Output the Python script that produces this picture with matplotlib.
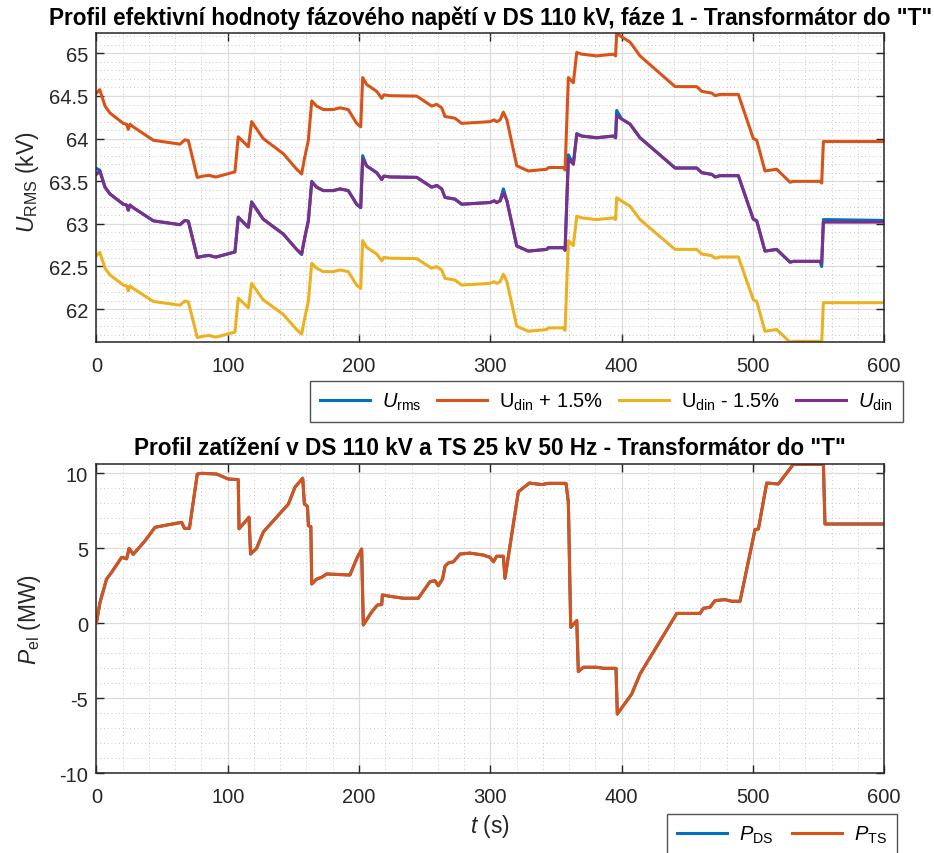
import matplotlib
matplotlib.use("Agg")
import matplotlib.pyplot as plt
from matplotlib.ticker import MultipleLocator, FuncFormatter
import numpy as np

plt.rcParams['font.family'] = ['Liberation Sans', 'DejaVu Sans']
plt.rcParams['mathtext.fontset'] = 'custom'
plt.rcParams['mathtext.rm'] = 'Liberation Sans'
plt.rcParams['mathtext.it'] = 'Liberation Sans:italic'

# --- data ---
t_u = [0, 2.5, 6.5, 10.3, 20.4, 23, 24.2, 25.5, 28, 43.3, 63.6, 67.4, 70, 76.8, 81, 86, 88, 91,
       105.5, 108, 115.7, 118.2, 127, 142.3, 152.5, 156.3, 158.4, 161.4, 164, 167.7, 172.8,
       180.4, 185.5, 191.8, 198.2, 201.3, 202.8, 205.8, 213.5, 217.3, 219, 223.7, 244, 255.4,
       259.2, 263, 265.5, 273.1, 278.2, 299.8, 303, 305, 307.5, 310, 312.7, 320.2, 329, 343,
       344.3, 355.7, 357, 359.5, 363.3, 365.9, 369.7, 381.1, 393.8, 395.5, 396.3, 400.1, 406.5,
       414.1, 440.8, 457.3, 461.1, 468.8, 471.3, 475.1, 489, 500.4, 503, 509.3, 518.2, 528.4,
       531, 551.2, 552.5, 553.8, 600]
u_din = [63.58, 63.62, 63.43, 63.35, 63.23, 63.22, 63.16, 63.22, 63.19, 63.035, 62.99, 63.04,
         63.03, 62.605, 62.62, 62.63, 62.62, 62.61, 62.67, 63.075, 62.96, 63.25, 63.055, 62.88,
         62.70, 62.645, 62.82, 63.035, 63.49, 63.43, 63.39, 63.39, 63.41, 63.39, 63.23, 63.19,
         63.76, 63.68, 63.60, 63.52, 63.56, 63.55, 63.545, 63.43, 63.45, 63.41, 63.31, 63.29,
         63.23, 63.25, 63.27, 63.25, 63.27, 63.36, 63.27, 62.74, 62.68, 62.70, 62.72, 62.72,
         62.69, 63.76, 63.70, 64.05, 64.03, 64.01, 64.03, 64.01, 64.27, 64.23, 64.17, 64.01,
         63.655, 63.655, 63.60, 63.58, 63.55, 63.565, 63.565, 63.055, 63.035, 62.68, 62.70,
         62.55, 62.56, 62.56, 62.54, 63.02, 63.02]
u_rms = [63.65, 63.63, 63.43, 63.35, 63.23, 63.22, 63.16, 63.22, 63.19, 63.035, 62.99, 63.04,
         63.03, 62.605, 62.62, 62.63, 62.62, 62.61, 62.67, 63.08, 62.96, 63.26, 63.055, 62.88,
         62.70, 62.64, 62.82, 63.035, 63.50, 63.43, 63.39, 63.39, 63.41, 63.39, 63.23, 63.19,
         63.80, 63.68, 63.60, 63.52, 63.56, 63.55, 63.545, 63.43, 63.45, 63.41, 63.31, 63.29,
         63.23, 63.25, 63.27, 63.25, 63.27, 63.41, 63.27, 62.74, 62.68, 62.70, 62.72, 62.72,
         62.69, 63.81, 63.70, 64.06, 64.03, 64.01, 64.03, 64.01, 64.33, 64.23, 64.17, 64.01,
         63.655, 63.655, 63.60, 63.58, 63.55, 63.565, 63.565, 63.055, 63.035, 62.68, 62.70,
         62.55, 62.56, 62.56, 62.50, 63.05, 63.04]
tol = 0.015  # +/- 1.5 %

t_p = [0, 2.7, 7.7, 11.5, 19.2, 23, 24.8, 28, 37, 44.6, 53.4, 64.9, 67, 70.8, 76.8, 80, 91.6,
       100.4, 108, 108.6, 116.2, 117.4, 122, 127.1, 146.2, 151.2, 157.1, 158.4, 160.7, 161.5,
       163.3, 164, 167.8, 171.6, 175.4, 193.1, 198.2, 202, 203.3, 209.6, 214, 217.3, 217.8,
       223.7, 233.8, 245.2, 254.1, 257.9, 260.4, 263.7, 265.5, 268, 271.9, 277, 284.6, 294.7,
       299.8, 302.4, 304.9, 310, 311.2, 321.4, 329.8, 339.2, 344.3, 357.7, 359.5, 361.3, 365.9,
       367.1, 370.9, 381.1, 386.2, 395.8, 396.8, 407.8, 414.1, 442.1, 459.8, 462.4, 467.4,
       471.2, 478.9, 483.9, 490.3, 501.7, 504.3, 510.6, 519.5, 530.9, 553.8, 555, 600]
p_ds = [0.05, 1.4, 2.95, 3.4, 4.4, 4.3, 5.0, 4.6, 5.5, 6.4, 6.55, 6.73, 6.33, 6.33, 9.95, 10.0,
        9.95, 9.62, 9.58, 6.3, 7.07, 4.62, 5.0, 6.09, 7.95, 9.07, 9.67, 7.95, 7.8, 6.5, 6.45,
        2.62, 2.95, 3.07, 3.29, 3.22, 4.3, 4.95, -0.11, 0.75, 1.22, 1.25, 1.89, 1.8, 1.67, 1.67,
        2.78, 2.84, 2.5, 2.97, 3.8, 4.02, 4.1, 4.62, 4.68, 4.55, 4.4, 4.1, 4.47, 4.47, 3.0, 8.77,
        9.35, 9.25, 9.33, 9.33, 8.07, -0.27, 0.18, -3.22, -2.93, -2.93, -3.0, -3.0, -6.05, -4.71,
        -3.38, 0.66, 0.66, 1.0, 1.07, 1.51, 1.58, 1.47, 1.47, 6.25, 6.29, 9.35, 9.29, 10.6,
        10.6, 6.62, 6.62]
p_ts = list(p_ds)

C_BLUE, C_ORANGE, C_YELLOW, C_PURPLE = '#0072BD', '#D95319', '#EDB120', '#7E2F8E'
AX_COL = '#262626'
LW = 2.2
FS = 14.5

fig = plt.figure(figsize=(9.34, 8.54), dpi=100)
ax1 = fig.add_axes([0.1033, 0.598, 0.8432, 0.3618])
ax2 = fig.add_axes([0.1033, 0.0933, 0.8432, 0.3622])

u_din_a = np.array(u_din)
ax1.plot(t_u, u_rms, color=C_BLUE, lw=LW, label=r'$U_{\mathrm{rms}}$')
ax1.plot(t_u, u_din_a * (1 + tol), color=C_ORANGE, lw=LW, label=r'U$_{\mathrm{din}}$ + 1.5%')
ax1.plot(t_u, u_din_a * (1 - tol), color=C_YELLOW, lw=LW, label=r'U$_{\mathrm{din}}$ - 1.5%')
ax1.plot(t_u, u_din, color=C_PURPLE, lw=LW, label=r'$U_{\mathrm{din}}$')

ax2.plot(t_p, p_ds, color=C_BLUE, lw=LW, label=r'$P_{\mathrm{DS}}$')
ax2.plot(t_p, p_ts, color=C_ORANGE, lw=LW, label=r'$P_{\mathrm{TS}}$')

fmt = FuncFormatter(lambda v, p: '%g' % v)
for ax in (ax1, ax2):
    ax.set_xlim(0, 600)
    ax.xaxis.set_major_locator(MultipleLocator(100))
    ax.xaxis.set_minor_locator(MultipleLocator(20))
    ax.yaxis.set_major_formatter(fmt)
    ax.grid(True, which='major', color='#dcdcdc', lw=0.9)
    ax.grid(True, which='minor', color='#b5b5b5', lw=0.6, ls=(0, (1, 3.5)))
    ax.set_axisbelow(True)
    ax.tick_params(which='major', direction='in', length=6, width=1.0, top=True, right=True,
                   labelsize=FS, colors=AX_COL, pad=6)
    ax.tick_params(axis='x', which='major', pad=10)
    ax.tick_params(which='minor', length=0, top=True, right=True)
    for s in ax.spines.values():
        s.set_color(AX_COL)
        s.set_linewidth(1.1)

ax1.set_ylim(61.61, 65.235)
ax1.yaxis.set_major_locator(MultipleLocator(0.5))
ax1.yaxis.set_minor_locator(MultipleLocator(0.1))
ax1.set_title('Profil efektivní hodnoty fázového napětí v DS 110 kV, fáze 1 - Transformátor do "T"',
              fontsize=16.3, fontweight='bold', pad=7)
ax1.set_ylabel(r'$U_{\mathrm{RMS}}$ (kV)', fontsize=16.5, color=AX_COL)
ax1.yaxis.set_label_coords(-0.070, 0.52)

ax2.set_ylim(-10, 10.62)
ax2.yaxis.set_major_locator(MultipleLocator(5))
ax2.yaxis.set_minor_locator(MultipleLocator(1))
ax2.set_title('Profil zatížení v DS 110 kV a TS 25 kV 50 Hz - Transformátor do "T"',
              fontsize=16.3, fontweight='bold', pad=7)
ax2.set_ylabel(r'$P_{\mathrm{el}}$ (MW)', fontsize=16.5, color=AX_COL)
ax2.yaxis.set_label_coords(-0.068, 0.5)
ax2.set_xlabel(r'$t$ (s)', fontsize=16.5, color=AX_COL, labelpad=4)

leg1 = ax1.legend(loc='center', bbox_to_anchor=(0.649, 0.529), bbox_transform=fig.transFigure,
                  ncol=4, fontsize=FS, fancybox=False, handlelength=2.5, columnspacing=0.75,
                  handletextpad=0.6, borderpad=0.5, borderaxespad=0)
leg1.get_frame().set_edgecolor(AX_COL)
leg1.get_frame().set_linewidth(1.0)

leg2 = ax2.legend(loc='upper center', bbox_to_anchor=(0.837, 0.0457), bbox_transform=fig.transFigure,
                  ncol=2, fontsize=FS, fancybox=False, handlelength=2.5, columnspacing=0.9,
                  handletextpad=0.6, borderpad=0.5, borderaxespad=0)
leg2.get_frame().set_edgecolor(AX_COL)
leg2.get_frame().set_linewidth(1.0)

fig.savefig('out.png', dpi=100)
